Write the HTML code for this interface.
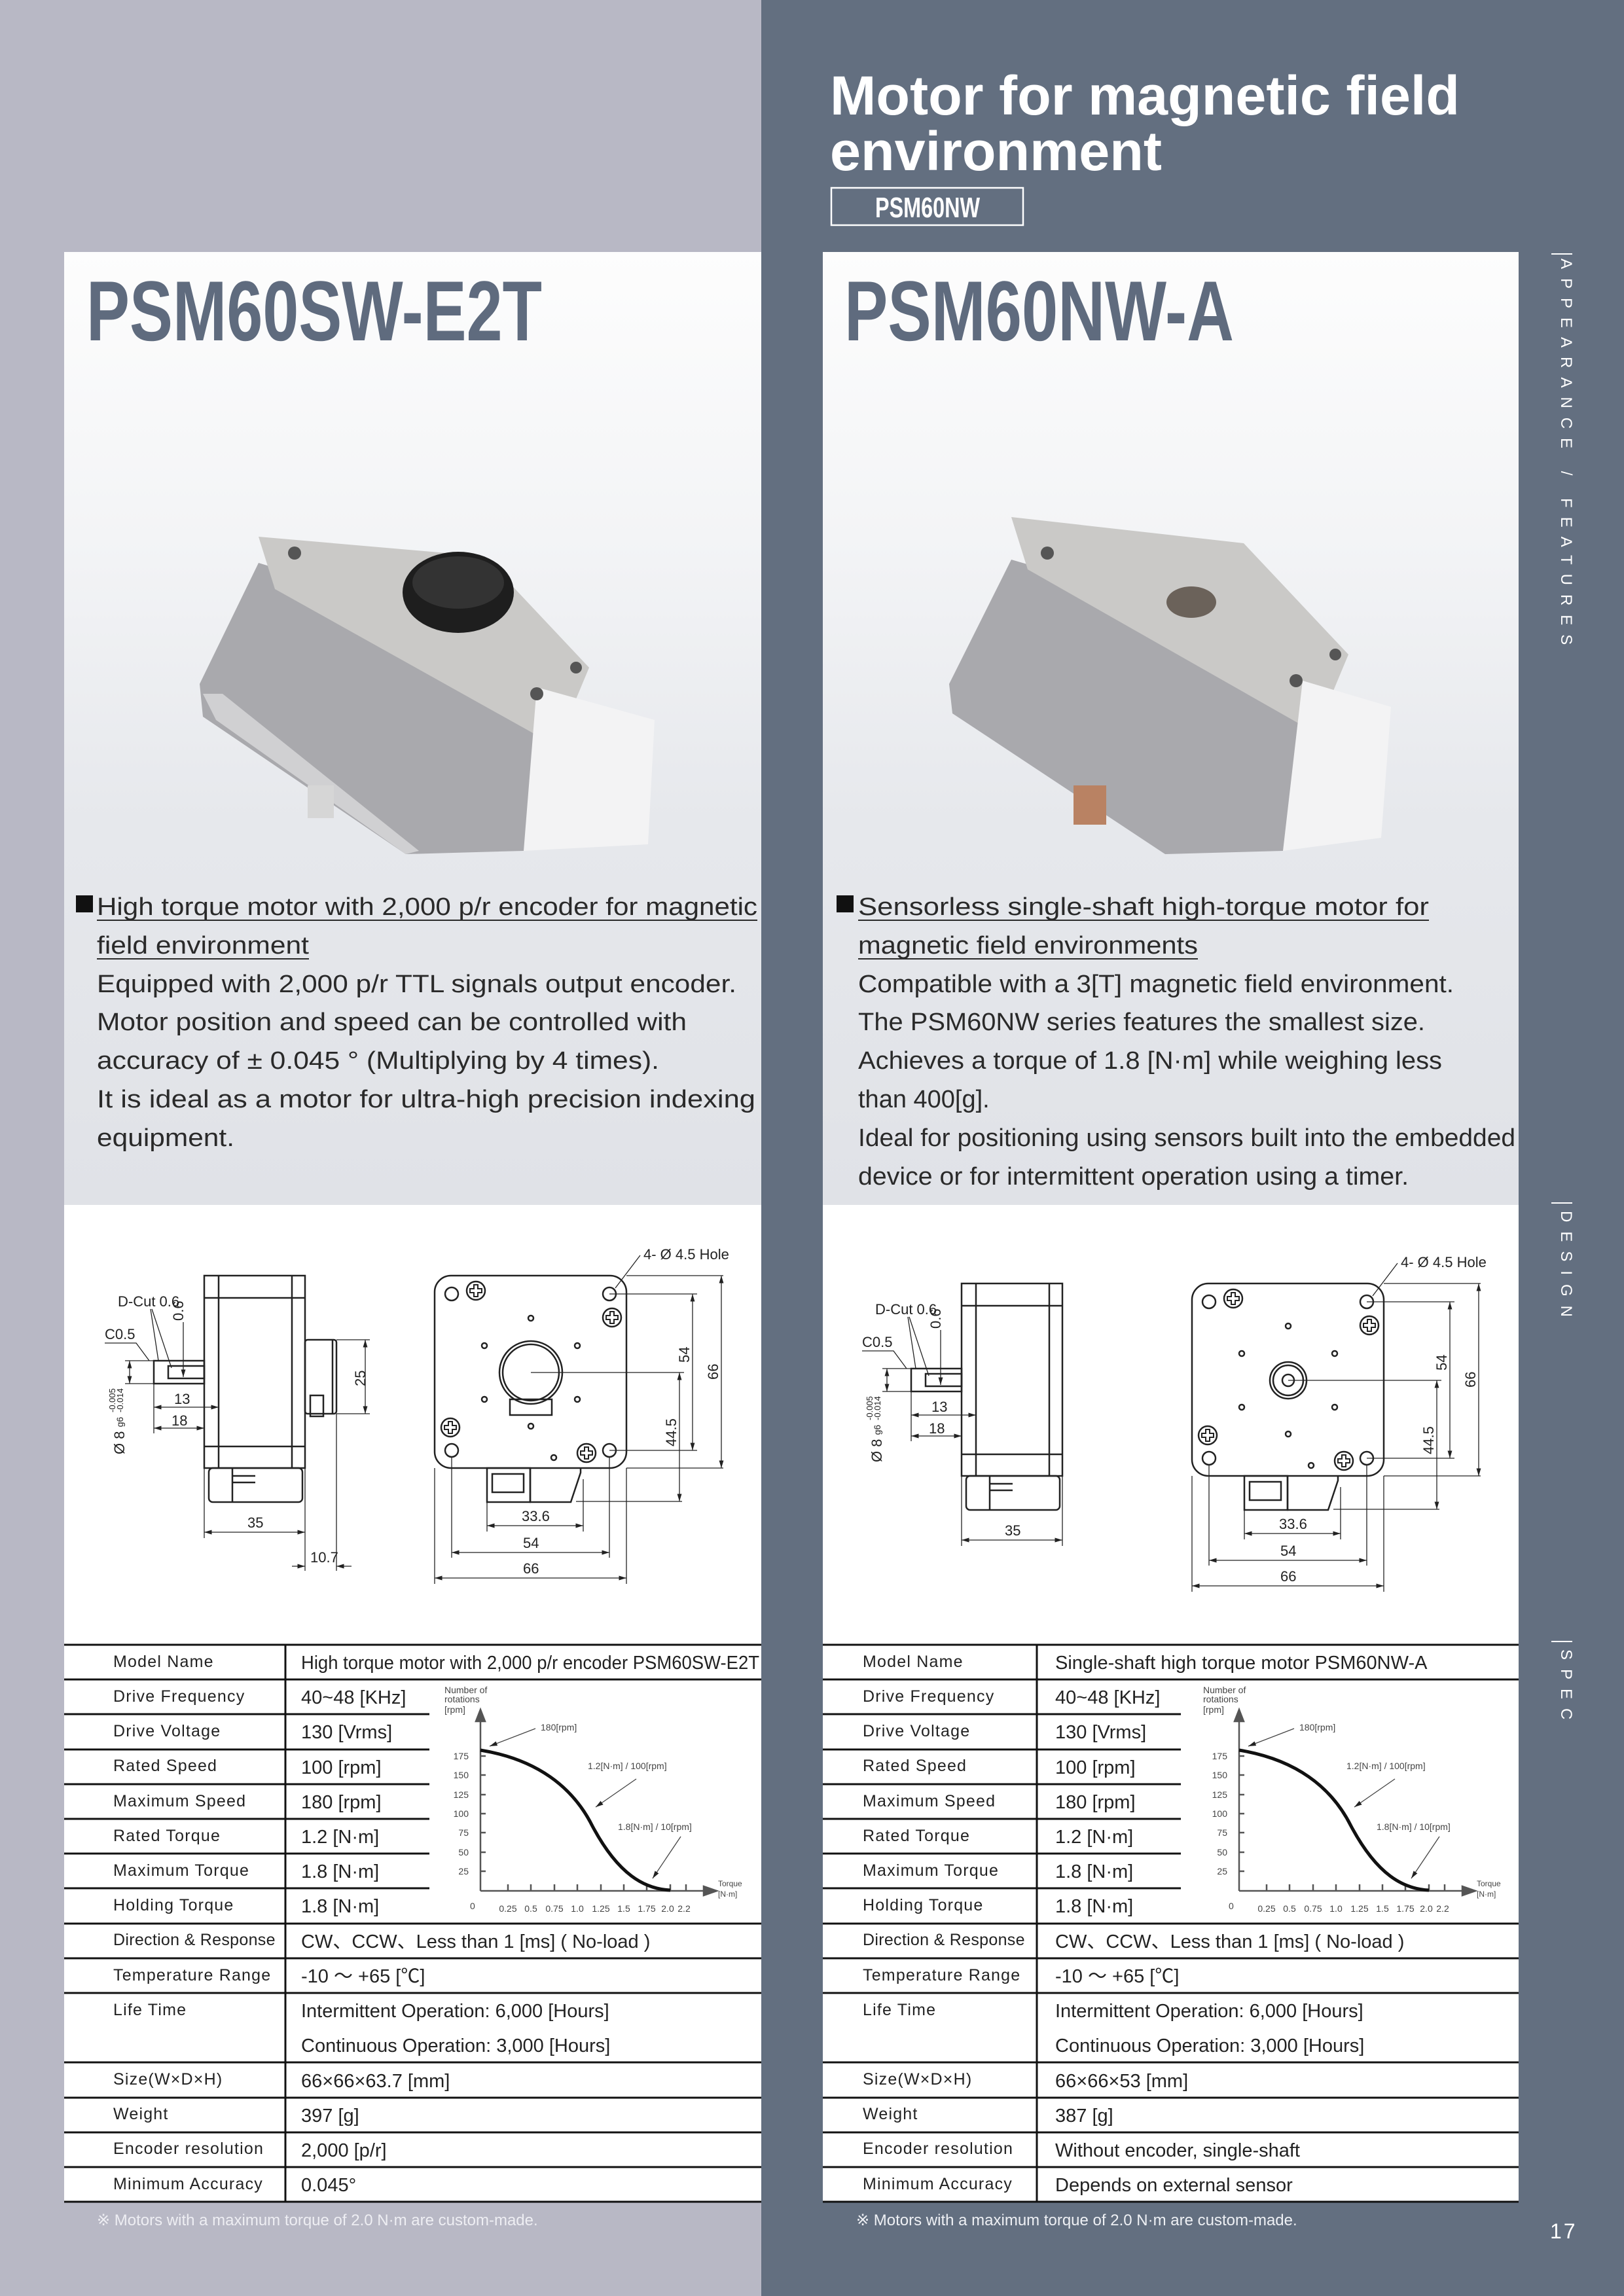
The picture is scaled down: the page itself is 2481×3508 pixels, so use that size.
<!DOCTYPE html>
<html><head><meta charset="utf-8"><style>
html,body{margin:0;padding:0}
body{width:2481px;height:3508px;position:relative;overflow:hidden;background:#b8b8c5;font-family:"Liberation Sans",sans-serif}
.rbg{position:absolute;left:1163px;top:0;width:1318px;height:3508px;background:#636f80}
.card{position:absolute;top:385px;height:1456px;background:linear-gradient(180deg,#fdfdfd 0%,#f3f4f6 30%,#e6e8ec 60%,#e0e2e7 100%)}
.white{position:absolute;top:1841px;height:1523px;background:#fff}
svg{position:absolute;left:0;top:0}
</style></head><body>
<div class="rbg"></div>
<div class="card" style="left:98px;width:1065px"></div>
<div class="card" style="left:1257px;width:1063px"></div>
<div class="white" style="left:98px;width:1065px"></div>
<div class="white" style="left:1257px;width:1063px"></div>
<svg width="2481" height="3508" viewBox="0 0 2481 3508" font-family="Liberation Sans, sans-serif">
<defs>
<marker id="ar" viewBox="0 0 10 10" refX="10" refY="5" markerWidth="9" markerHeight="9" orient="auto-start-reverse"><path d="M0,2 L10,5 L0,8 z" fill="#222"/></marker>
<g id="screw"><circle r="14" fill="#fff" stroke="#222" stroke-width="2.5"/><path d="M-3,-9 h6 v6 h6 v6 h-6 v6 h-6 v-6 h-6 v-6 h6 z" fill="none" stroke="#222" stroke-width="2"/></g>
</defs>
<!-- Header -->
<text x="1268" y="175" font-size="84" font-weight="bold" fill="#fff" textLength="962" lengthAdjust="spacingAndGlyphs">Motor for magnetic field</text>
<text x="1268" y="260" font-size="84" font-weight="bold" fill="#fff" textLength="507" lengthAdjust="spacingAndGlyphs">environment</text>
<rect x="1270" y="287" width="293" height="57" fill="none" stroke="#fff" stroke-width="2.5"/>
<text x="1337" y="332" font-size="44" font-weight="bold" fill="#fff" textLength="160" lengthAdjust="spacingAndGlyphs">PSM60NW</text>
<!-- side labels -->
<g fill="#fff" font-size="24" letter-spacing="14">
<text transform="translate(2385,395) rotate(90)">APPEARANCE / FEATURES</text>
<text transform="translate(2385,1850) rotate(90)">DESIGN</text>
<text transform="translate(2385,2520) rotate(90)">SPEC</text>
</g>
<g stroke="#fff" stroke-width="2"><line x1="2370" y1="388" x2="2402" y2="388"/><line x1="2370" y1="1838" x2="2402" y2="1838"/><line x1="2370" y1="2508" x2="2402" y2="2508"/></g>
<text x="2368" y="3420" font-size="32" fill="#fff" letter-spacing="3">17</text>
<text x="148" y="3400" font-size="24" fill="#eeeef3">※ Motors with a maximum torque of 2.0 N·m are custom-made.</text>
<text x="1308" y="3400" font-size="24" fill="#eef0f4">※ Motors with a maximum torque of 2.0 N·m are custom-made.</text>

<!-- Titles -->
<text x="132" y="520" font-size="130" font-weight="bold" fill="#5f6b7e" textLength="696" lengthAdjust="spacingAndGlyphs">PSM60SW-E2T</text>
<text x="1290" y="520" font-size="130" font-weight="bold" fill="#5f6b7e" textLength="595" lengthAdjust="spacingAndGlyphs">PSM60NW-A</text>

<!-- Left motor photo -->
<g>
<polygon points="305,1045 395,860 850,1000 895,1120 800,1300 620,1305 310,1095" fill="#a9a9ad"/>
<polygon points="310,1060 330,1100 620,1305 640,1300 340,1060" fill="#d0d0d2"/>
<polygon points="395,820 740,850 900,1020 850,1140 420,900" fill="#cac9c7"/>
<polygon points="820,1050 1000,1100 990,1290 800,1300" fill="#f3f3f4"/>
<ellipse cx="700" cy="905" rx="85" ry="62" fill="#1e1e1e"/>
<ellipse cx="700" cy="890" rx="70" ry="40" fill="#333"/>
<rect x="470" y="1200" width="40" height="50" fill="#d6d6d6"/>
<circle cx="450" cy="845" r="10" fill="#555"/><circle cx="820" cy="1060" r="10" fill="#555"/><circle cx="880" cy="1020" r="9" fill="#555"/>
</g>
<!-- Right motor photo -->
<g>
<polygon points="1450,1045 1545,855 2010,990 2060,1110 1960,1300 1780,1305 1455,1090" fill="#a9a9ad"/>
<polygon points="1545,790 1900,830 2060,1000 2010,1120 1570,870" fill="#cac9c7"/>
<polygon points="1990,1040 2125,1080 2110,1280 1960,1300" fill="#f3f3f4"/>
<ellipse cx="1820" cy="920" rx="38" ry="24" fill="#6b625a"/>
<rect x="1640" y="1200" width="50" height="60" fill="#b98263"/>
<circle cx="1600" cy="845" r="10" fill="#555"/><circle cx="1980" cy="1040" r="10" fill="#555"/><circle cx="2040" cy="1000" r="9" fill="#555"/>
</g>

<!-- Feature texts -->
<g font-size="38" fill="#2a2a2a">
<rect x="116" y="1368" width="26" height="26" fill="#111"/>
<text x="148" y="1398" textLength="1009" lengthAdjust="spacingAndGlyphs">High torque motor with 2,000 p/r encoder for magnetic</text>
<line x1="148" y1="1406" x2="1157" y2="1406" stroke="#2a2a2a" stroke-width="2"/>
<text x="148" y="1457" textLength="324" lengthAdjust="spacingAndGlyphs">field environment</text>
<line x1="148" y1="1465" x2="472" y2="1465" stroke="#2a2a2a" stroke-width="2"/>
<text x="148" y="1516" textLength="977" lengthAdjust="spacingAndGlyphs">Equipped with 2,000 p/r TTL signals output encoder.</text>
<text x="148" y="1574" textLength="901" lengthAdjust="spacingAndGlyphs">Motor position and speed can be controlled with</text>
<text x="148" y="1633" textLength="859" lengthAdjust="spacingAndGlyphs">accuracy of ± 0.045 ° (Multiplying by 4 times).</text>
<text x="148" y="1692" textLength="1006" lengthAdjust="spacingAndGlyphs">It is ideal as a motor for ultra-high precision indexing</text>
<text x="148" y="1751" textLength="210" lengthAdjust="spacingAndGlyphs">equipment.</text>

<rect x="1278" y="1368" width="26" height="26" fill="#111"/>
<text x="1311" y="1398" textLength="872" lengthAdjust="spacingAndGlyphs">Sensorless  single-shaft high-torque motor for</text>
<line x1="1311" y1="1406" x2="2183" y2="1406" stroke="#2a2a2a" stroke-width="2"/>
<text x="1311" y="1457" textLength="519" lengthAdjust="spacingAndGlyphs">magnetic field environments</text>
<line x1="1311" y1="1465" x2="1830" y2="1465" stroke="#2a2a2a" stroke-width="2"/>
<text x="1311" y="1516" textLength="910" lengthAdjust="spacingAndGlyphs">Compatible with a 3[T] magnetic field environment.</text>
<text x="1311" y="1574" textLength="866" lengthAdjust="spacingAndGlyphs">The PSM60NW series features the smallest size.</text>
<text x="1311" y="1633" textLength="892" lengthAdjust="spacingAndGlyphs">Achieves a torque of 1.8 [N·m] while weighing less</text>
<text x="1311" y="1692">than 400[g].</text>
<text x="1311" y="1751" textLength="1004" lengthAdjust="spacingAndGlyphs">Ideal for positioning using sensors built into the embedded</text>
<text x="1311" y="1810" textLength="841" lengthAdjust="spacingAndGlyphs">device or for intermittent operation using a timer.</text>
</g>

<!-- Left drawing -->
<g id="drawL" fill="none" stroke="#222" stroke-width="2.5">
<rect x="312" y="1949" width="154" height="294"/>
<line x1="334" y1="1949" x2="334" y2="2243"/><line x1="446" y1="1949" x2="446" y2="2243"/>
<line x1="312" y1="1983" x2="466" y2="1983"/><line x1="312" y1="2210" x2="466" y2="2210"/>
<rect x="235" y="2079" width="77" height="35"/>
<rect x="257" y="2087" width="55" height="19"/>
<rect x="319" y="2243" width="143" height="52" rx="6"/>
<line x1="355" y1="2243" x2="355" y2="2295"/>
<path d="M355,2255 h35 M355,2265 h35" />
<g stroke-width="1.3">
<line x1="191" y1="2079" x2="312" y2="2079"/><line x1="191" y1="2114" x2="235" y2="2114"/>
<line x1="198" y1="2079" x2="198" y2="2114" marker-start="url(#ar)" marker-end="url(#ar)"/>
<line x1="235" y1="2114" x2="235" y2="2190"/>
<line x1="235" y1="2150" x2="334" y2="2150" marker-start="url(#ar)" marker-end="url(#ar)"/>
<line x1="235" y1="2182" x2="312" y2="2182" marker-start="url(#ar)" marker-end="url(#ar)"/>
<line x1="280" y1="2020" x2="280" y2="2104" marker-end="url(#ar)"/>
<polyline points="160,2052 208,2052 228,2079"/>
<line x1="230" y1="2000" x2="242" y2="2079"/><line x1="232" y1="2000" x2="262" y2="2090"/>
<line x1="312" y1="2243" x2="312" y2="2350"/><line x1="466" y1="2243" x2="466" y2="2350"/>
<line x1="312" y1="2341" x2="466" y2="2341" marker-start="url(#ar)" marker-end="url(#ar)"/>
</g>
</g>
<g fill="none" stroke="#222" stroke-width="2.5">
<rect x="466" y="2047" width="48" height="113" rx="4"/>
<line x1="508" y1="2047" x2="508" y2="2160"/>
<rect x="474" y="2132" width="20" height="32"/>
<g stroke-width="1.3"><line x1="514" y1="2047" x2="565" y2="2047"/><line x1="514" y1="2160" x2="565" y2="2160"/>
<line x1="558" y1="2047" x2="558" y2="2160" marker-start="url(#ar)" marker-end="url(#ar)"/>
<line x1="466" y1="2350" x2="466" y2="2400"/>
<line x1="514" y1="2160" x2="514" y2="2400"/>
<line x1="446" y1="2393" x2="466" y2="2393" marker-end="url(#ar)"/><line x1="537" y1="2393" x2="514" y2="2393" marker-end="url(#ar)"/>
</g>
</g>
<g font-size="22" fill="#222">
<text x="180" y="1996">D-Cut 0.6</text><text x="160" y="2046">C0.5</text>
<text transform="translate(280,2018) rotate(-90)">0.6</text>
<text x="266" y="2145">13</text><text x="262" y="2178">18</text>
<text x="378" y="2334">35</text><text x="474" y="2387">10.7</text>
<text transform="translate(558,2118) rotate(-90)">25</text>
<text transform="translate(190,2222) rotate(-90)" font-size="22">Ø 8 <tspan font-size="14" dy="-2">g6</tspan></text>
<text transform="translate(176,2158) rotate(-90)" font-size="13">-0.005</text>
<text transform="translate(188,2158) rotate(-90)" font-size="13">-0.014</text>
</g>
<!-- left front view -->
<g fill="none" stroke="#222" stroke-width="2.5">
<rect x="664" y="1949" width="293" height="294" rx="25"/>
<circle cx="690" cy="1977" r="10"/><circle cx="931" cy="1977" r="10"/><circle cx="690" cy="2216" r="10"/><circle cx="931" cy="2216" r="10"/>
<circle cx="811" cy="2014" r="4"/><circle cx="740" cy="2056" r="4"/><circle cx="882" cy="2056" r="4"/><circle cx="740" cy="2138" r="4"/><circle cx="882" cy="2138" r="4"/><circle cx="811" cy="2179" r="4"/><circle cx="846" cy="2227" r="4"/>
<circle cx="811" cy="2097" r="48"/><circle cx="811" cy="2097" r="43"/>
<rect x="779" y="2138" width="64" height="24"/>
<rect x="744" y="2243" width="66" height="52"/><rect x="752" y="2252" width="48" height="28"/>
<path d="M810,2243 v52 h62 l15,-45 v-7"/>
<g stroke-width="1.3">
<line x1="811" y1="2097" x2="1045" y2="2097"/><line x1="931" y1="1977" x2="1065" y2="1977"/><line x1="931" y1="2216" x2="1065" y2="2216"/>
<line x1="957" y1="1949" x2="1105" y2="1949"/><line x1="957" y1="2243" x2="1105" y2="2243"/><line x1="880" y1="2294" x2="1042" y2="2294"/>
<line x1="1058" y1="1977" x2="1058" y2="2216" marker-start="url(#ar)" marker-end="url(#ar)"/>
<line x1="1102" y1="1949" x2="1102" y2="2243" marker-start="url(#ar)" marker-end="url(#ar)"/>
<line x1="1038" y1="2097" x2="1038" y2="2294" marker-start="url(#ar)" marker-end="url(#ar)"/>
<line x1="744" y1="2295" x2="744" y2="2340"/><line x1="891" y1="2260" x2="891" y2="2340"/>
<line x1="690" y1="2226" x2="690" y2="2380"/><line x1="931" y1="2226" x2="931" y2="2380"/>
<line x1="664" y1="2243" x2="664" y2="2420"/><line x1="957" y1="2243" x2="957" y2="2420"/>
<line x1="744" y1="2331" x2="891" y2="2331" marker-start="url(#ar)" marker-end="url(#ar)"/>
<line x1="690" y1="2372" x2="931" y2="2372" marker-start="url(#ar)" marker-end="url(#ar)"/>
<line x1="664" y1="2411" x2="957" y2="2411" marker-start="url(#ar)" marker-end="url(#ar)"/>
<line x1="978" y1="1918" x2="940" y2="1968"/>
</g>
</g>
<use href="#screw" x="727" y="1972"/><use href="#screw" x="935" y="2013"/><use href="#screw" x="688" y="2181"/><use href="#screw" x="896" y="2220"/>
<g font-size="22" fill="#222">
<text x="983" y="1924">4-  Ø  4.5 Hole</text>
<text transform="translate(1053,2082) rotate(-90)">54</text>
<text transform="translate(1097,2108) rotate(-90)">66</text>
<text transform="translate(1033,2210) rotate(-90)">44.5</text>
<text x="797" y="2324">33.6</text><text x="799" y="2365">54</text><text x="799" y="2404">66</text>
</g>

<!-- Right drawing -->
<g transform="translate(1157,12)">
<use href="#drawL"/>
<g fill="none" stroke="#222" stroke-width="2.5">
<rect x="664" y="1949" width="293" height="294" rx="25"/>
<circle cx="690" cy="1977" r="10"/><circle cx="931" cy="1977" r="10"/><circle cx="690" cy="2216" r="10"/><circle cx="931" cy="2216" r="10"/>
<circle cx="811" cy="2014" r="4"/><circle cx="740" cy="2056" r="4"/><circle cx="882" cy="2056" r="4"/><circle cx="740" cy="2138" r="4"/><circle cx="882" cy="2138" r="4"/><circle cx="811" cy="2179" r="4"/><circle cx="846" cy="2227" r="4"/>
<circle cx="811" cy="2097" r="28"/><circle cx="811" cy="2097" r="23"/><circle cx="811" cy="2097" r="9"/>
<rect x="744" y="2243" width="66" height="52"/><rect x="752" y="2252" width="48" height="28"/>
<path d="M810,2243 v52 h62 l15,-45 v-7"/>
<g stroke-width="1.3">
<line x1="811" y1="2097" x2="1045" y2="2097"/><line x1="931" y1="1977" x2="1065" y2="1977"/><line x1="931" y1="2216" x2="1065" y2="2216"/>
<line x1="957" y1="1949" x2="1105" y2="1949"/><line x1="957" y1="2243" x2="1105" y2="2243"/><line x1="880" y1="2294" x2="1042" y2="2294"/>
<line x1="1058" y1="1977" x2="1058" y2="2216" marker-start="url(#ar)" marker-end="url(#ar)"/>
<line x1="1102" y1="1949" x2="1102" y2="2243" marker-start="url(#ar)" marker-end="url(#ar)"/>
<line x1="1038" y1="2097" x2="1038" y2="2294" marker-start="url(#ar)" marker-end="url(#ar)"/>
<line x1="744" y1="2295" x2="744" y2="2340"/><line x1="891" y1="2260" x2="891" y2="2340"/>
<line x1="690" y1="2226" x2="690" y2="2380"/><line x1="931" y1="2226" x2="931" y2="2380"/>
<line x1="664" y1="2243" x2="664" y2="2420"/><line x1="957" y1="2243" x2="957" y2="2420"/>
<line x1="744" y1="2331" x2="891" y2="2331" marker-start="url(#ar)" marker-end="url(#ar)"/>
<line x1="690" y1="2372" x2="931" y2="2372" marker-start="url(#ar)" marker-end="url(#ar)"/>
<line x1="664" y1="2411" x2="957" y2="2411" marker-start="url(#ar)" marker-end="url(#ar)"/>
<line x1="978" y1="1918" x2="940" y2="1968"/>
</g>
</g>
<use href="#screw" x="727" y="1972"/><use href="#screw" x="935" y="2013"/><use href="#screw" x="688" y="2181"/><use href="#screw" x="896" y="2220"/>
<g font-size="22" fill="#222">
<text x="180" y="1996">D-Cut 0.6</text><text x="160" y="2046">C0.5</text>
<text transform="translate(280,2018) rotate(-90)">0.6</text>
<text x="266" y="2145">13</text><text x="262" y="2178">18</text>
<text x="378" y="2334">35</text>
<text transform="translate(190,2222) rotate(-90)">Ø 8 <tspan font-size="14" dy="-2">g6</tspan></text>
<text transform="translate(176,2158) rotate(-90)" font-size="13">-0.005</text>
<text transform="translate(188,2158) rotate(-90)" font-size="13">-0.014</text>
<text x="983" y="1924">4-  Ø  4.5 Hole</text>
<text transform="translate(1053,2082) rotate(-90)">54</text>
<text transform="translate(1097,2108) rotate(-90)">66</text>
<text transform="translate(1033,2210) rotate(-90)">44.5</text>
<text x="797" y="2324">33.6</text><text x="799" y="2365">54</text><text x="799" y="2404">66</text>
</g>
</g>

<!-- Tables -->
<g stroke="#111" stroke-width="3">
<line x1="98" y1="2513" x2="1163" y2="2513"/><line x1="98" y1="2566" x2="1163" y2="2566"/>
<line x1="98" y1="2619" x2="656" y2="2619"/><line x1="98" y1="2673" x2="656" y2="2673"/><line x1="98" y1="2726" x2="656" y2="2726"/><line x1="98" y1="2779" x2="656" y2="2779"/><line x1="98" y1="2832" x2="656" y2="2832"/><line x1="98" y1="2885" x2="656" y2="2885"/>
<line x1="98" y1="2939" x2="1163" y2="2939"/><line x1="98" y1="2992" x2="1163" y2="2992"/><line x1="98" y1="3045" x2="1163" y2="3045"/>
<line x1="98" y1="3151" x2="1163" y2="3151"/><line x1="98" y1="3205" x2="1163" y2="3205"/><line x1="98" y1="3258" x2="1163" y2="3258"/><line x1="98" y1="3311" x2="1163" y2="3311"/><line x1="98" y1="3364" x2="1163" y2="3364"/>
<line x1="436" y1="2513" x2="436" y2="3364"/>
</g>
<g transform="translate(1159,0)">
<g stroke="#111" stroke-width="3">
<line x1="98" y1="2513" x2="1161" y2="2513"/><line x1="98" y1="2566" x2="1161" y2="2566"/>
<line x1="98" y1="2619" x2="645" y2="2619"/><line x1="98" y1="2673" x2="645" y2="2673"/><line x1="98" y1="2726" x2="645" y2="2726"/><line x1="98" y1="2779" x2="645" y2="2779"/><line x1="98" y1="2832" x2="645" y2="2832"/><line x1="98" y1="2885" x2="645" y2="2885"/>
<line x1="98" y1="2939" x2="1161" y2="2939"/><line x1="98" y1="2992" x2="1161" y2="2992"/><line x1="98" y1="3045" x2="1161" y2="3045"/>
<line x1="98" y1="3151" x2="1161" y2="3151"/><line x1="98" y1="3205" x2="1161" y2="3205"/><line x1="98" y1="3258" x2="1161" y2="3258"/><line x1="98" y1="3311" x2="1161" y2="3311"/><line x1="98" y1="3364" x2="1161" y2="3364"/>
<line x1="425" y1="2513" x2="425" y2="3364"/>
</g>
</g>
<g font-size="25" fill="#222" letter-spacing="1.2">
<text x="173" y="2547">Model Name</text><text x="173" y="2600">Drive Frequency</text><text x="173" y="2653">Drive Voltage</text><text x="173" y="2706">Rated Speed</text><text x="173" y="2760">Maximum Speed</text><text x="173" y="2813">Rated Torque</text><text x="173" y="2866">Maximum Torque</text><text x="173" y="2919">Holding Torque</text><text x="173" y="2972" letter-spacing="0.3">Direction &amp; Response</text><text x="173" y="3026">Temperature Range</text><text x="173" y="3079">Life Time</text><text x="173" y="3185">Size(W×D×H)</text><text x="173" y="3238">Weight</text><text x="173" y="3291">Encoder resolution</text><text x="173" y="3345">Minimum Accuracy</text>
</g>
<g font-size="25" fill="#222" letter-spacing="1.2">
<text x="1318" y="2547">Model Name</text><text x="1318" y="2600">Drive Frequency</text><text x="1318" y="2653">Drive Voltage</text><text x="1318" y="2706">Rated Speed</text><text x="1318" y="2760">Maximum Speed</text><text x="1318" y="2813">Rated Torque</text><text x="1318" y="2866">Maximum Torque</text><text x="1318" y="2919">Holding Torque</text><text x="1318" y="2972" letter-spacing="0.3">Direction &amp; Response</text><text x="1318" y="3026">Temperature Range</text><text x="1318" y="3079">Life Time</text><text x="1318" y="3185">Size(W×D×H)</text><text x="1318" y="3238">Weight</text><text x="1318" y="3291">Encoder resolution</text><text x="1318" y="3345">Minimum Accuracy</text>
</g>
<g font-size="29" fill="#222">
<text x="460" y="2550" textLength="700" lengthAdjust="spacingAndGlyphs">High torque motor with  2,000 p/r encoder PSM60SW-E2T</text>
<text x="460" y="2603">40~48 [KHz]</text><text x="460" y="2656">130 [Vrms]</text><text x="460" y="2710">100 [rpm]</text><text x="460" y="2763">180 [rpm]</text><text x="460" y="2816">1.2 [N·m]</text><text x="460" y="2869">1.8 [N·m]</text><text x="460" y="2922">1.8 [N·m]</text>
<text x="460" y="2976">CW、CCW、Less than 1 [ms] ( No-load )</text><text x="460" y="3029">-10 ～ +65 [℃]</text>
<text x="460" y="3082">Intermittent Operation: 6,000 [Hours]</text><text x="460" y="3135">Continuous Operation: 3,000 [Hours]</text>
<text x="460" y="3189">66×66×63.7 [mm]</text><text x="460" y="3242">397 [g]</text><text x="460" y="3295">2,000 [p/r]</text><text x="460" y="3348">0.045°</text>
</g>
<g font-size="29" fill="#222">
<text x="1612" y="2550">Single-shaft high torque motor PSM60NW-A</text>
<text x="1612" y="2603">40~48 [KHz]</text><text x="1612" y="2656">130 [Vrms]</text><text x="1612" y="2710">100 [rpm]</text><text x="1612" y="2763">180 [rpm]</text><text x="1612" y="2816">1.2 [N·m]</text><text x="1612" y="2869">1.8 [N·m]</text><text x="1612" y="2922">1.8 [N·m]</text>
<text x="1612" y="2976">CW、CCW、Less than 1 [ms] ( No-load )</text><text x="1612" y="3029">-10 ～ +65 [℃]</text>
<text x="1612" y="3082">Intermittent Operation: 6,000 [Hours]</text><text x="1612" y="3135">Continuous Operation: 3,000 [Hours]</text>
<text x="1612" y="3189">66×66×53 [mm]</text><text x="1612" y="3242">387 [g]</text><text x="1612" y="3295">Without encoder, single-shaft</text><text x="1612" y="3348">Depends on external sensor</text>
</g>

<!-- Charts -->
<g id="chart">
<g stroke="#555" stroke-width="2.5" fill="none">
<line x1="734" y1="2889" x2="734" y2="2625"/><path d="M727,2630 L734,2612 L741,2630 z" fill="#555"/>
<line x1="734" y1="2889" x2="1080" y2="2889"/><path d="M1075,2882 L1095,2889 L1075,2896 z" fill="#555"/>
<path d="M734,2683 h8 M734,2712 h8 M734,2742 h8 M734,2771 h8 M734,2800 h8 M734,2830 h8 M734,2859 h8"/>
<path d="M776,2889 v-10 M811,2889 v-10 M847,2889 v-10 M882,2889 v-10 M918,2889 v-10 M953,2889 v-10 M988,2889 v-10 M1024,2889 v-10 M1048,2889 v-10"/>
</g>
<path d="M734,2674 C820,2688 875,2730 905,2790 C945,2865 985,2886 1024,2888" fill="none" stroke="#111" stroke-width="5"/>
<g stroke="#444" stroke-width="1.3"><line x1="818" y1="2641" x2="748" y2="2668" marker-end="url(#ar)"/><line x1="972" y1="2718" x2="910" y2="2761" marker-end="url(#ar)"/><line x1="1040" y1="2806" x2="997" y2="2870" marker-end="url(#ar)"/></g>
<g font-size="14" fill="#444">
<text x="679" y="2587">Number of</text><text x="679" y="2601">rotations</text><text x="679" y="2617">[rpm]</text>
<text x="826" y="2644">180[rpm]</text><text x="898" y="2703">1.2[N·m] / 100[rpm]</text><text x="944" y="2796">1.8[N·m] / 10[rpm]</text>
<g text-anchor="end"><text x="716" y="2688">175</text><text x="716" y="2717">150</text><text x="716" y="2747">125</text><text x="716" y="2776">100</text><text x="716" y="2805">75</text><text x="716" y="2835">50</text><text x="716" y="2864">25</text></g>
<text x="718" y="2917">0</text>
<g text-anchor="middle"><text x="776" y="2921">0.25</text><text x="811" y="2921">0.5</text><text x="847" y="2921">0.75</text><text x="882" y="2921">1.0</text><text x="918" y="2921">1.25</text><text x="953" y="2921">1.5</text><text x="988" y="2921">1.75</text><text x="1020" y="2921">2.0</text><text x="1045" y="2921">2.2</text></g>
<text x="1097" y="2882" font-size="12">Torque</text><text x="1097" y="2898" font-size="12">[N·m]</text>
</g>
</g>
<use href="#chart" x="1159" y="0"/>
</svg>
</body></html>
